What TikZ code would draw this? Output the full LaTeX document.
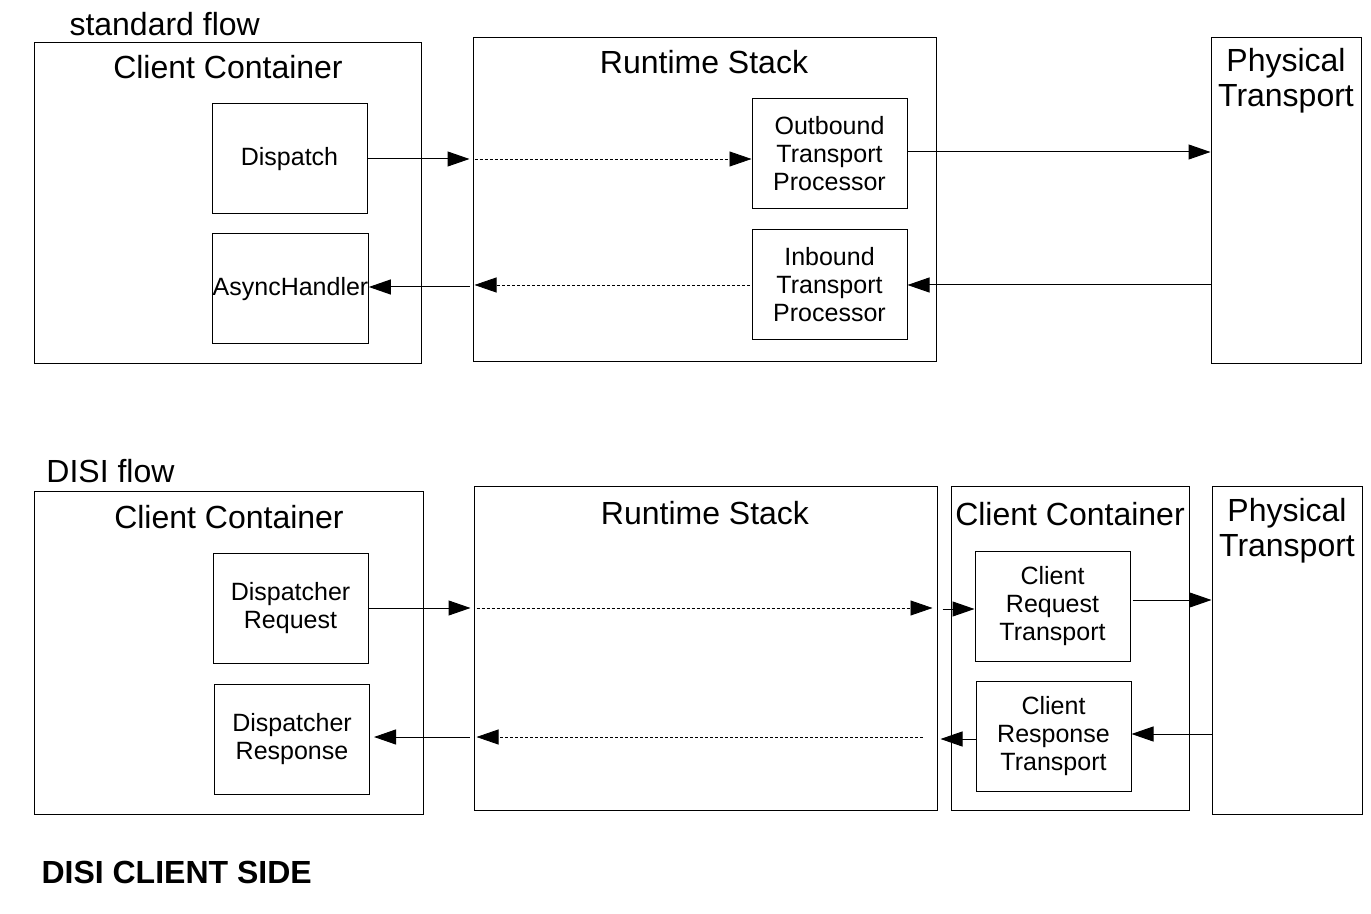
\documentclass[tikz,border=0pt]{standalone}
\usepackage{fontspec}
\setmainfont{Liberation Sans}
\usetikzlibrary{arrows.meta}
\begin{document}
\begin{tikzpicture}[x=0.5pt,y=-0.5pt,line width=0.5pt,
  every node/.style={inner sep=0pt},
  frame/.style={draw,minimum width=#1},
  box/.style={draw,minimum width=77.5pt,minimum height=55pt,align=center,
    font=\fontsize{12.5}{14}\selectfont},
  title/.style={anchor=base,font=\fontsize{16}{17.5}\selectfont},
  tag/.style={anchor=base west,font=\fontsize{16}{17.5}\selectfont},
  arr/.style={-{Triangle[length=11pt,width=7.5pt]}},
  dots/.style={arr,line width=0.4pt,dash pattern=on 1.5pt off 1pt}]
\useasboundingbox (0,0) rectangle (1371,914);
% standard flow
\node[tag] (std) at (69,36) {standard flow};
\node[frame=193.5pt,minimum height=160.5pt] (cc1) at (227.5,203.5) {};
\node[title] (cc1t) at (228,79) {Client Container};
\node[box] (disp) at (289.5,159) {Dispatch};
\node[box] (async) at (290.5,289) {AsyncHandler};
\node[frame=231.5pt,minimum height=162pt] (rs1) at (704.5,200) {};
\node[title] (rs1t) at (704,74) {Runtime Stack};
\node[box] (ob) at (829.5,154) {Outbound\\Transport\\Processor};
\node[box] (ib) at (829.5,285) {Inbound\\Transport\\Processor};
\node[frame=75pt,minimum height=163pt] (pt1) at (1286,201) {};
\node[title,anchor=center,align=center] (pt1t) at (1286,81) {Physical\\Transport};
% outgoing
\draw[arr,shorten >=1.5pt] (disp.east) -- (disp.east -| rs1.west);
\draw[dots,shorten <=1pt] (disp.east -| rs1.west) -- (disp.east -| ob.west);
\draw[arr] ([yshift=1pt]ob.east) -- ([yshift=1pt]ob.east -| pt1.west);
% incoming
\draw[arr] (ib.east -| pt1.west) -- (ib.east);
\draw[dots,shorten <=1pt,shorten >=1pt] (ib.west) -- (ib.west -| rs1.west);
\draw[arr,shorten <=1.5pt] ([yshift=1pt]async.east -| rs1.west) -- ([yshift=1pt]async.east);
% DISI flow
\node[tag] (disi) at (46,483) {DISI flow};
\node[frame=194.5pt,minimum height=161pt] (cc2) at (228.5,653) {};
\node[title] (cc2t) at (229,529) {Client Container};
\node[box] (dreq) at (290.5,608) {Dispatcher\\Request};
\node[box] (dres) at (292,739) {Dispatcher\\Response};
\node[frame=231.5pt,minimum height=161.5pt] (rs2) at (705.5,648.5) {};
\node[title] (rs2t) at (705,524) {Runtime Stack};
\node[frame=119pt,minimum height=161.5pt] (cc3) at (1070,648.5) {};
\node[title] (cc3t) at (1070,525) {Client Container};
\node[box] (creq) at (1052.5,606) {Client\\Request\\Transport};
\node[box] (cres) at (1053.5,736) {Client\\Response\\Transport};
\node[frame=75pt,minimum height=163.5pt] (pt2) at (1287,650.5) {};
\node[title,anchor=center,align=center] (pt2t) at (1287,531) {Physical\\Transport};
% outgoing
\draw[arr,shorten >=1.5pt] (dreq.east) -- (dreq.east -| rs2.west);
\draw[dots,shorten <=1.5pt,shorten >=2.5pt] (dreq.east -| rs2.west) -- (dreq.east -| rs2.east);
\draw[arr,shorten <=2.5pt] ([yshift=-1.5pt]creq.west -| rs2.east) -- ([yshift=-1.5pt]creq.west);
\draw[arr,shorten <=1pt] ([yshift=3pt]creq.east) -- ([yshift=3pt]creq.east -| pt2.west);
% incoming
\draw[arr] ([yshift=1pt]cres.east -| pt2.west) -- ([yshift=1pt]cres.east);
\draw[arr,shorten >=1.5pt] ([yshift=-1.5pt]cres.west) -- ([yshift=-1.5pt]cres.west -| rs2.east);
\draw[dots,shorten <=7.5pt,shorten >=1.5pt] ([yshift=-0.5pt]cres.west -| rs2.east) -- ([yshift=-0.5pt]cres.west -| rs2.west);
\draw[arr,shorten <=2pt,shorten >=2pt] ([yshift=1pt]dres.west -| rs2.west) -- ([yshift=1pt]dres.east);
\node[anchor=base west,font=\fontsize{16}{18}\selectfont\bfseries] (side) at (41,883) {DISI CLIENT SIDE};
\end{tikzpicture}
\end{document}
